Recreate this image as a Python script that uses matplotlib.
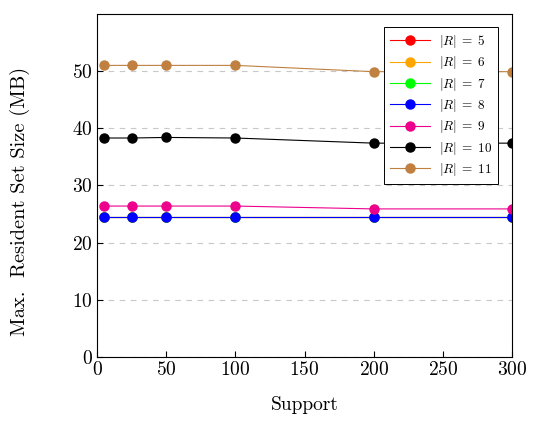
import numpy as np
import matplotlib.pyplot as plt

plt.rcParams['font.family'] = 'serif'
plt.rcParams['font.serif'] = ['cmr10', 'DejaVu Serif']
plt.rcParams['mathtext.fontset'] = 'cm'
plt.rcParams['axes.formatter.use_mathtext'] = True

support = [5, 25, 50, 100, 200, 300]
r5 = [24.4, 24.4, 24.4, 24.4, 24.4, 24.4]
r6 = [24.4, 24.4, 24.4, 24.4, 24.4, 24.4]
r7 = [24.4, 24.4, 24.4, 24.4, 24.4, 24.4]
r8 = [24.4, 24.4, 24.4, 24.4, 24.4, 24.4]
r9 = [26.4, 26.4, 26.4, 26.4, 25.9, 25.9]
r10 = [38.3, 38.3, 38.4, 38.3, 37.4, 37.4]
r11 = [51.0, 51.0, 51.0, 51.0, 49.9, 49.9]

series = [(r5, '5', '#ff0000'), (r6, '6', '#ffa500'), (r7, '7', '#00ff00'),
          (r8, '8', '#0000ff'), (r9, '9', '#ec008c'), (r10, '10', '#000000'),
          (r11, '11', '#bf8040')]

fig = plt.figure(figsize=(5.34, 4.22), dpi=100)
ax = fig.add_axes([0.182, 0.154, 0.777, 0.813])

for vals, lab, col in series:
    ax.plot(support, vals, color=col, marker='o', markersize=6.5, linewidth=0.8,
            label=r'$|R|\;=\;%s$' % lab)

ax.set_xlim(0, 300)
ax.set_ylim(0, 60)
ax.set_yticks([0, 10, 20, 30, 40, 50])
ax.set_xticks([0, 50, 100, 150, 200, 250, 300])
ax.yaxis.grid(True, linestyle=(0, (5, 5)), color='#c8c8c8', linewidth=0.8)
ax.set_axisbelow(True)
ax.tick_params(direction='in', labelsize=14, length=4, pad=3)
ax.set_xlabel('Support', fontsize=14, labelpad=12)
ax.set_ylabel('Max.  Resident Set Size (MB)', fontsize=14.7)
ax.yaxis.set_label_coords(-0.162, 0.452)

leg = ax.legend(loc='upper right', bbox_to_anchor=(0.966, 0.962), borderaxespad=0,
                fontsize=9.5, fancybox=False, edgecolor='black', framealpha=1,
                handlelength=3.0, handletextpad=0.7, labelspacing=0.33,
                borderpad=0.45)
leg.get_frame().set_linewidth(0.7)

plt.savefig('out.png', dpi=100)
